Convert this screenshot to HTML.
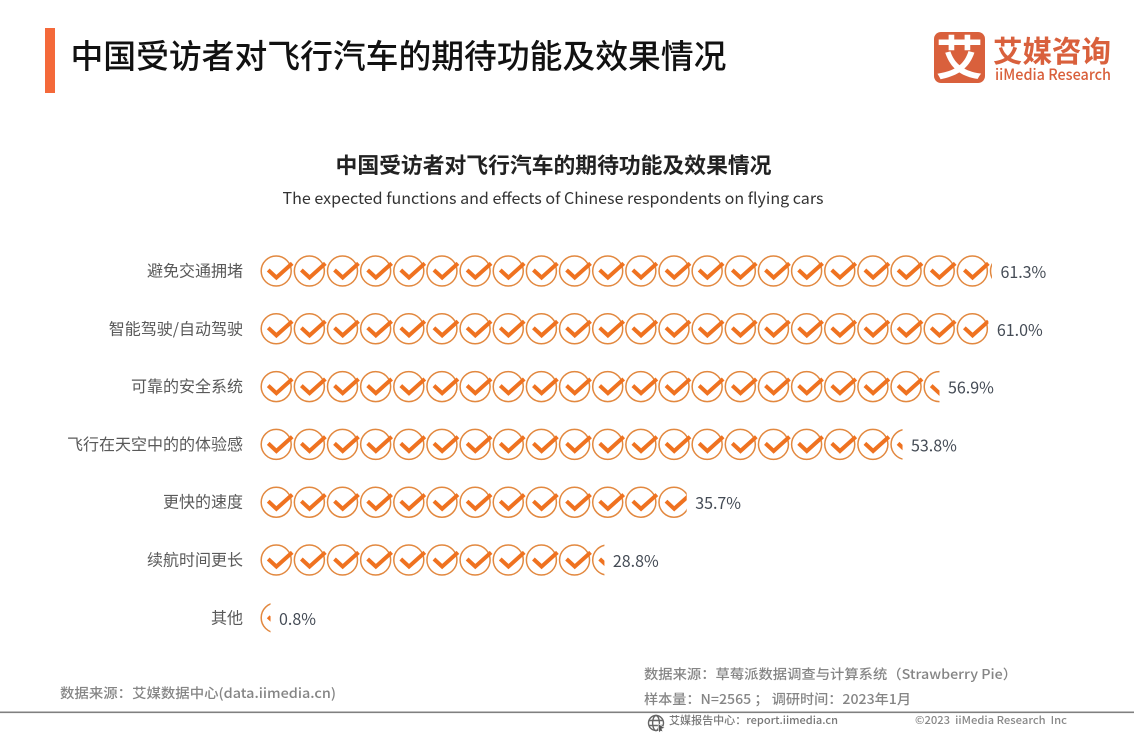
<!DOCTYPE html>
<html lang="zh">
<head>
<meta charset="utf-8">
<title>中国受访者对飞行汽车的期待功能及效果情况</title>
<style>
html,body{margin:0;padding:0;background:#fff;}
body{width:1134px;height:737px;overflow:hidden;}
svg{display:block;}
text{font-family:"Liberation Sans","Noto Sans CJK SC",sans-serif;}
.cjk{font-family:"Noto Sans CJK SC","Liberation Sans",sans-serif;}
</style>
</head>
<body>
<svg id="chart" xmlns="http://www.w3.org/2000/svg" width="1134" height="737" viewBox="0 0 1134 737">
  <rect width="1134" height="737" fill="#ffffff"/>
  <rect x="45" y="28" width="10" height="65" fill="#f4693a"/>
  <text class="cjk" x="70.5" y="68" font-size="32.8" font-weight="500" fill="#111">中国受访者对飞行汽车的期待功能及效果情况</text>

  <g>
    <rect x="934" y="32" width="51" height="51" rx="7" fill="#d9603c"/>
    <text class="cjk" x="959.5" y="75" font-size="47" font-weight="700" text-anchor="middle" fill="#fff">艾</text>
    <text class="cjk" x="993" y="62" font-size="29.5" font-weight="700" fill="#d9603c">艾媒咨询</text>
    <text class="cjk" x="995" y="80" font-size="15.5" font-weight="500" fill="#d9603c" textLength="116" lengthAdjust="spacingAndGlyphs">iiMedia Research</text>
  </g>

  <text class="cjk" x="553.5" y="173" font-size="21.8" font-weight="700" text-anchor="middle" fill="#222">中国受访者对飞行汽车的期待功能及效果情况</text>
  <text class="cjk" x="553" y="204" font-size="16" text-anchor="middle" fill="#333" textLength="541" lengthAdjust="spacingAndGlyphs">The expected functions and effects of Chinese respondents on flying cars</text>

  <g id="rows"></g>

  <text class="cjk" x="60" y="698" font-size="13.5" font-weight="500" fill="#858585" textLength="276" lengthAdjust="spacingAndGlyphs">数据来源：艾媒数据中心(data.iimedia.cn)</text>
  <text class="cjk" x="644" y="679" font-size="13.5" font-weight="500" fill="#858585" textLength="373" lengthAdjust="spacingAndGlyphs">数据来源：草莓派数据调查与计算系统（Strawberry Pie）</text>
  <text class="cjk" x="644" y="704" font-size="13.5" font-weight="500" fill="#858585" textLength="267" lengthAdjust="spacingAndGlyphs">样本量：N=2565 ； 调研时间：2023年1月</text>
  <rect x="0" y="711.5" width="1134" height="1.6" fill="#808080"/>

  <g fill="none" stroke="#666" stroke-width="1.4">
    <circle cx="656" cy="723" r="7.5"/>
    <ellipse cx="656" cy="723" rx="3.4" ry="7.5"/>
    <path d="M649 720.5H663M649 725.5H663"/>
    <path d="M658 723.5L665 728L661.8 728.8L663 732L660.8 731L659 733Z" fill="#555" stroke="#fff" stroke-width=".6"/>
  </g>
  <text class="cjk" x="669" y="724" font-size="10.6" font-weight="500" fill="#777" textLength="169" lengthAdjust="spacingAndGlyphs">艾媒报告中心：report.iimedia.cn</text>
  <text class="cjk" x="915" y="724" font-size="10.6" font-weight="500" fill="#888" textLength="152" lengthAdjust="spacingAndGlyphs">©2023&#160;&#160;iiMedia Research&#160;&#160;Inc</text>
</svg>

<script>
const categories = ["避免交通拥堵", "智能驾驶/自动驾驶", "可靠的安全系统", "飞行在天空中的的体验感", "更快的速度", "续航时间更长", "其他"];
const seriesValues = [61.3, 61.0, 56.9, 53.8, 35.7, 28.8, 0.8];
const valueLabels = ["61.3%", "61.0%", "56.9%", "53.8%", "35.7%", "28.8%", "0.8%"];

const NS = "http://www.w3.org/2000/svg";
const plotLeft = 261;
const iconPitch = 33.15;
const valuePerIcon = 2.78;
const rowTop = 271;
const rowStep = 57.8;

function xScale(v) { return plotLeft + (v / valuePerIcon) * iconPitch; }
function yScale(i) { return rowTop + i * rowStep; }

function make(tag, attrs) {
  const el = document.createElementNS(NS, tag);
  for (const k in attrs) el.setAttribute(k, attrs[k]);
  return el;
}

const root = document.getElementById("rows");
const svg = document.getElementById("chart");
const defs = make("defs", {});
svg.insertBefore(defs, svg.firstChild);

categories.forEach(function (name, i) {
  const v = seriesValues[i];
  const y = yScale(i);
  const end = xScale(v);

  const row = make("g", {});
  
  
  root.appendChild(row);

  const label = make("text", { x: 243, y: y + 5.5, "font-size": 16, "text-anchor": "end", fill: "#595959", "class": "cjk" });
  
  
  label.textContent = name;
  row.appendChild(label);

  const clip = make("clipPath", { id: "clip-" + i });
  clip.appendChild(make("rect", { x: plotLeft - 2, y: y - 20, width: end - plotLeft + 2, height: 40 }));
  defs.appendChild(clip);

  const icons = make("g", { "clip-path": "url(#clip-" + i + ")" });
  
  
  row.appendChild(icons);

  const count = Math.ceil(v / valuePerIcon);
  for (let n = 0; n < count; n++) {
    const cx = plotLeft + 15.2 + n * iconPitch;
    const icon = make("g", {});
    
    
    const ring = make("circle", { cx: cx, cy: y, r: 15, fill: "#fff", stroke: "#e2883f", "stroke-width": 1.5 });
    
    
    icon.appendChild(ring);
    const tick = make("path", {
      d: "M" + (cx - 8) + " " + (y - 1) + "L" + (cx + 0.2) + " " + (y + 6.6) + "L" + (cx + 16) + " " + (y - 7.6),
      fill: "none", stroke: "#ef7220", "stroke-width": 4, "stroke-linejoin": "miter"
    });
    
    
    icon.appendChild(tick);
    icons.appendChild(icon);
  }

  const val = make("text", { x: end + 8.5, y: y + 7, "font-size": 16, fill: "#444b55", "class": "cjk" });
  
  
  val.textContent = valueLabels[i];
  row.appendChild(val);
});
</script>
</body>
</html>
